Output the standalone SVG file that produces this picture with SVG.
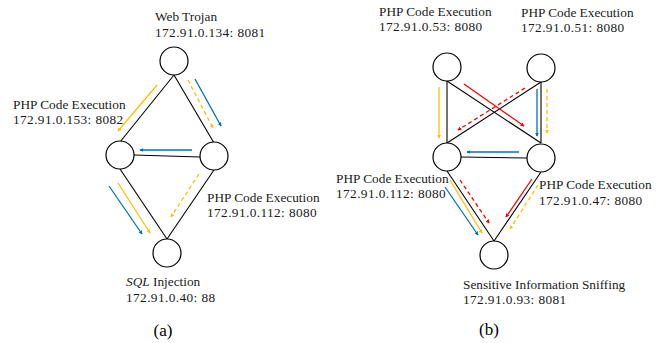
<svg xmlns="http://www.w3.org/2000/svg" width="667" height="343" viewBox="0 0 667 343">
<defs>
<marker id="hy" viewBox="0 0 6 6" refX="5" refY="3" markerWidth="4" markerHeight="4" orient="auto" markerUnits="userSpaceOnUse"><path d="M0,0 L6,3 L0,6 z" fill="#FFC000"/></marker>
<marker id="hb" viewBox="0 0 6 6" refX="5" refY="3" markerWidth="4" markerHeight="4" orient="auto" markerUnits="userSpaceOnUse"><path d="M0,0 L6,3 L0,6 z" fill="#0070C0"/></marker>
<marker id="hr" viewBox="0 0 6 6" refX="5" refY="3" markerWidth="4" markerHeight="4" orient="auto" markerUnits="userSpaceOnUse"><path d="M0,0 L6,3 L0,6 z" fill="#FF0000"/></marker>
</defs>
<style>
.n{fill:#fff;stroke:#000;stroke-width:1.2}
.e{stroke:#000;stroke-width:1.1;fill:none}
.y{stroke:#FFC000;stroke-width:1.3;fill:none;marker-end:url(#hy)}
.b{stroke:#0070C0;stroke-width:1.3;fill:none;marker-end:url(#hb)}
.r{stroke:#FF0000;stroke-width:1.3;fill:none;marker-end:url(#hr)}
.d{stroke-dasharray:4 3}
text{font-family:"Liberation Serif","DejaVu Serif",serif;font-size:13.3px;fill:#1a1a1a}
.ip{letter-spacing:0.4px}
.cap{font-size:17px;text-anchor:middle;fill:#000}
</style>
<rect width="667" height="343" fill="#fff"/>
<g id="edges">
<line class="e" x1="174" y1="75" x2="120" y2="142"/>
<line class="e" x1="174" y1="75" x2="214" y2="143"/>
<line class="e" x1="134" y1="155" x2="200" y2="157"/>
<line class="e" x1="120" y1="169" x2="167" y2="239"/>
<line class="e" x1="214" y1="170" x2="167" y2="239"/>
<line class="e" x1="447" y1="81" x2="447" y2="143"/>
<line class="e" x1="541" y1="82" x2="541" y2="143"/>
<line class="e" x1="447" y1="81" x2="541" y2="143"/>
<line class="e" x1="541" y1="82" x2="447" y2="143"/>
<line class="e" x1="461" y1="157" x2="527" y2="158"/>
<line class="e" x1="447" y1="171" x2="494" y2="241"/>
<line class="e" x1="541" y1="172" x2="494" y2="241"/>
</g>
<g id="flows">
<line class="y" x1="157" y1="85" x2="118" y2="131"/>
<line class="y d" x1="188" y1="80" x2="213" y2="128"/>
<line class="b" x1="195" y1="79" x2="221" y2="126"/>
<line class="b" x1="192" y1="150" x2="140" y2="150"/>
<line class="b" x1="109" y1="186" x2="142" y2="234"/>
<line class="y" x1="118" y1="183" x2="150" y2="233"/>
<line class="y d" x1="199" y1="174" x2="171" y2="217"/>
<line class="y" x1="439" y1="87" x2="439" y2="138"/>
<line class="r" x1="464" y1="84" x2="524" y2="126"/>
<line class="r d" x1="525" y1="88" x2="458" y2="130"/>
<line class="b" x1="537" y1="89" x2="537" y2="136"/>
<line class="y d" x1="547" y1="89" x2="547" y2="133"/>
<line class="b" x1="519" y1="152" x2="467" y2="152"/>
<line class="b" x1="445" y1="187" x2="478" y2="235"/>
<line class="y" x1="450" y1="180" x2="482" y2="233"/>
<line class="r d" x1="460" y1="180" x2="489" y2="223"/>
<line class="r" x1="532" y1="179" x2="506" y2="217"/>
<line class="y d" x1="538" y1="185" x2="510" y2="229"/>
</g>
<g id="web-trojan"><circle class="n" cx="174" cy="61" r="14"/><text x="155" y="21">Web Trojan</text><text class="ip" x="155" y="37">172.91.0.134: 8081</text></g>
<g id="php-153"><circle class="n" cx="120" cy="155" r="14"/><text x="13" y="109">PHP Code Execution</text><text class="ip" x="13" y="124">172.91.0.153: 8082</text></g>
<g id="php-112a"><circle class="n" cx="214" cy="156" r="14"/><text x="207" y="202">PHP Code Execution</text><text class="ip" x="207" y="217">172.91.0.112: 8080</text></g>
<g id="sql"><circle class="n" cx="167" cy="253" r="14"/><text x="126" y="286"><tspan font-style="italic">SQL</tspan> Injection</text><text class="ip" x="126" y="302">172.91.0.40: 88</text></g>
<text class="cap" x="163" y="336">(a)</text>
<g id="php-53"><circle class="n" cx="447" cy="67" r="14"/><text x="379" y="16">PHP Code Execution</text><text class="ip" x="379" y="31">172.91.0.53: 8080</text></g>
<g id="php-51"><circle class="n" cx="541" cy="68" r="14"/><text x="521" y="17">PHP Code Execution</text><text class="ip" x="521" y="32">172.91.0.51: 8080</text></g>
<g id="php-112b"><circle class="n" cx="447" cy="157" r="14"/><text x="336" y="183">PHP Code Execution</text><text class="ip" x="336" y="198">172.91.0.112: 8080</text></g>
<g id="php-47"><circle class="n" cx="541" cy="158" r="14"/><text x="539" y="189">PHP Code Execution</text><text class="ip" x="539" y="205">172.91.0.47: 8080</text></g>
<g id="sniffing"><circle class="n" cx="494" cy="255" r="14"/><text x="463" y="289">Sensitive Information Sniffing</text><text class="ip" x="463" y="304">172.91.0.93: 8081</text></g>
<text class="cap" x="489" y="335">(b)</text>
</svg>
